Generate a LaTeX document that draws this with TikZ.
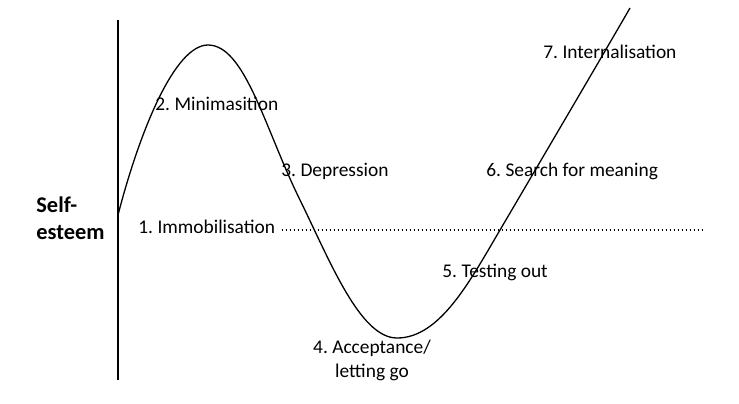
\documentclass[tikz,border=0pt]{standalone}
\usepackage{fontspec}
\setmainfont{Carlito}
\usepackage{tikz}
\usetikzlibrary{positioning}
\frenchspacing
\tikzset{
  stage/.style={
    inner sep=0pt,
    anchor=west,
    font=\fontsize{9.7}{11.6}\selectfont,
  },
  axis-label/.style={
    inner sep=0pt,
    anchor=west,
    align=left,
    font=\fontsize{11.2}{13.5}\selectfont\bfseries,
  },
  curve/.style={
    line width=0.65pt,
  },
  level/.style={
    line width=0.6pt,
    dash pattern=on 0.6pt off 1.4pt,
  },
}
\begin{document}
\begin{tikzpicture}[x=0.5pt,y=-0.5pt]
    \useasboundingbox (0,0) rectangle (739,403);

    % vertical axis
    \coordinate (axis-top) at (118,20);
    \coordinate (axis-bottom) at (118,380);
    \draw [line width=0.7pt] (axis-top) -- (axis-bottom);

    \node [axis-label] (self-esteem) at (36,218.5) {Self-\\esteem};

    % stages
    \node [stage] (immobilisation) at (138,227) {1. Immobilisation};
    \node [stage] (minimisation) at (155,104) {2. Minimasition};
    \node [stage] (depression) at (281,171) {3. Depression};
    \node [stage, anchor=center, align=center] (acceptance) at (372,360.5)
      {4. Acceptance/\\letting go};
    \node [stage] (testing) at (442,272) {5. Testing out};
    \node [stage] (meaning) at (486,171) {6. Search for meaning};
    \node [stage] (internalisation) at (543,52) {7. Internalisation};

    % dotted level
    \coordinate (level-end) at (705,230);
    \draw [level] ([xshift=3pt] immobilisation.east |- level-end) -- (level-end);

    % the curve
    \coordinate (start) at (118,215);
    \coordinate (peak) at (208,45);
    \coordinate (fall) at (300,200);
    \coordinate (trough) at (397,338);
    \coordinate (rise) at (500,230);
    \coordinate (end) at (630,8);
    \draw [curve] (start)
      .. controls (140,130) and (175,45) .. (peak)
      .. controls (245,45) and (265,129) .. (fall)
      .. controls (330,261) and (360,338) .. (trough)
      .. controls (440,338) and (470,281) .. (rise)
      .. controls (520,196) and (600,60) .. (end);
  \end{tikzpicture}
\end{document}
